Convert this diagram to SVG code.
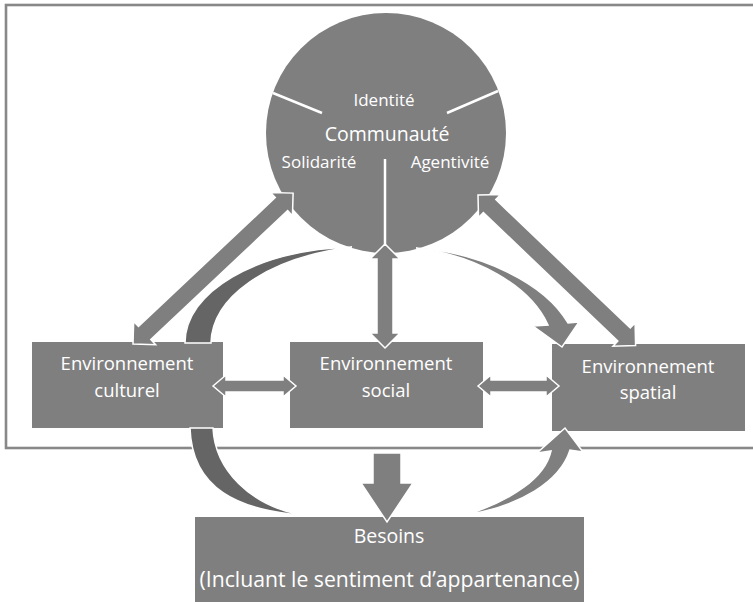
<svg xmlns="http://www.w3.org/2000/svg" width="753" height="602" viewBox="0 0 753 602">
  <style>
    .frame { fill: none; stroke: #888888; stroke-width: 2.6; }
    .shape { fill: #7f7f7f; }
    .arrow { fill: #7f7f7f; stroke: #ffffff; stroke-width: 1.5; stroke-linejoin: miter; }
    .arrow-dark { fill: #656565; stroke: #ffffff; stroke-width: 1.5; }
    .divider { stroke: #ffffff; stroke-width: 2.5; fill: none; }
    .label { font-family: "Open Sans", "Liberation Sans", sans-serif; fill: #ffffff; text-anchor: middle; }
  </style>

  <!-- outer frame (right side runs off the canvas) -->
  <rect class="frame" x="6" y="5" width="770" height="443"/>

  <!-- central community circle -->
  <g id="communaute">
    <circle class="shape" cx="386" cy="133" r="120"/>
    <line class="divider" x1="273" y1="93" x2="322" y2="113"/>
    <line class="divider" x1="447" y1="113" x2="498" y2="91"/>
    <line class="divider" x1="385" y1="159" x2="385" y2="246"/>
    <text class="label" x="384" y="105.5" font-size="17">Identité</text>
    <text class="label" x="387" y="141" font-size="19.5">Communauté</text>
    <text class="label" x="319" y="168" font-size="17">Solidarité</text>
    <text class="label" x="450" y="168" font-size="17">Agentivité</text>
  </g>

  <g id="env-culturel">
    <rect class="shape" x="32" y="342" width="191" height="86"/>
    <text class="label" x="127" y="370" font-size="18.5">Environnement</text>
    <text class="label" x="127" y="397" font-size="18.5">culturel</text>
  </g>

  <g id="env-social">
    <rect class="shape" x="290" y="342" width="193" height="86"/>
    <text class="label" x="386" y="370" font-size="18.5">Environnement</text>
    <text class="label" x="386" y="397" font-size="18.5">social</text>
  </g>

  <g id="env-spatial">
    <rect class="shape" x="552" y="344" width="193" height="87"/>
    <text class="label" x="648" y="373" font-size="18.5">Environnement</text>
    <text class="label" x="648" y="399" font-size="18.5">spatial</text>
  </g>

  <g id="besoins">
    <rect class="shape" x="195" y="517" width="389" height="85"/>
    <text class="label" x="389" y="543" font-size="19.5">Besoins</text>
    <text class="label" x="389.5" y="587" font-size="21.2">(Incluant le sentiment d’appartenance)</text>
  </g>

  <g id="connectors">
    <!-- arc over the top: culturel -> spatial -->
    <path class="arrow-dark" d="M185,343 C185,292 255,250 352,247 C265,258 212,298 211,343 Z"/>
    <path class="arrow" d="M416,248 C480,252 545,283 568,323 L579,322 L562,347 L533,326 L548,325 C530,285 475,255 416,248 Z"/>

    <!-- arc underneath: culturel -> spatial -->
    <path class="arrow-dark" d="M190,428 C192,490 240,510 301,515 C250,505 215,470 213,428 Z"/>
    <path class="arrow" d="M466,515 C520,506 560,482 570,450 L583,452 L565,428 L537,453 L551,451 C545,478 512,500 466,515 Z"/>

    <!-- double arrows -->
    <polygon class="arrow" transform="translate(133,344) rotate(-43.3)"
             points="0,0 16,-16 16,-9 204,-9 204,-16 220,0 204,16 204,9 16,9 16,16"/>
    <polygon class="arrow" transform="translate(478,195) rotate(43.7)"
             points="0,0 16,-16 16,-9 202,-9 202,-16 218,0 202,16 202,9 16,9 16,16"/>
    <polygon class="arrow" transform="translate(385,244) rotate(90)"
             points="0,0 15,-15 15,-8 89,-8 89,-15 104,0 89,15 89,8 15,8 15,15"/>
    <polygon class="arrow" transform="translate(213,386)"
             points="0,0 13,-11 13,-6 70,-6 70,-11 83,0 70,11 70,6 13,6 13,11"/>
    <polygon class="arrow" transform="translate(478,386)"
             points="0,0 13,-11 13,-6 68,-6 68,-11 81,0 68,11 68,6 13,6 13,11"/>

    <!-- social -> besoins -->
    <polygon class="arrow" points="373,453 401,453 401,483 413,483 387,522 361,483 373,483"/>
  </g>
</svg>
